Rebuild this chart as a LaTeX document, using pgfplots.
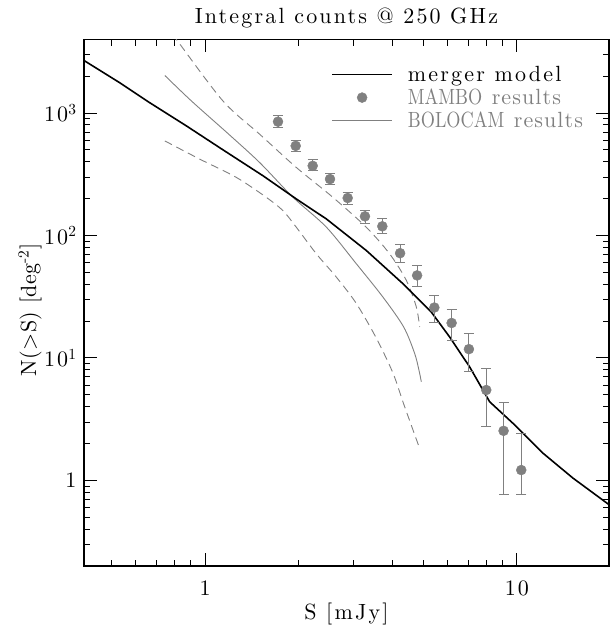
\documentclass[border=0pt]{standalone}
\usepackage{fontspec}
\setmainfont{lmroman10-regular.otf}[LetterSpace=10, Ligatures=TeX]
\usepackage{graphicx}
\usepackage{pgfplots}
\pgfplotsset{compat=1.18}
\definecolor{mgray}{RGB}{128,128,128}
\newcommand\caps[1]{{\addfontfeatures{LetterSpace=0}\scalebox{0.83}[1]{#1}}}
\pgfplotsset{
  linelegend/.style={legend image code/.code={\draw[##1] (0pt,0pt) -- (60pt,0pt);}},
  marklegend/.style={legend image code/.code={\draw[##1] plot coordinates {(30pt,0pt)};}},
}
\pgfplotstableread{
x y
0.409 2685
0.533 1765
0.665 1213
0.872 784
1.142 500
1.535 307
1.963 198.6
2.449 136.5
3.290 75.4
4.311 40.4
5.316 23.7
6.085 14.85
7.053 8.47
8.177 4.39
9.71 2.93
12.12 1.67
15.12 1.046
19.75 0.634
}\merger
\pgfplotstableread{
x y ep em
1.714 850 101 91
1.953 539 61 55
2.214 370.5 44 33.5
2.516 288.8 34 29.3
2.867 202.3 24 23.9
3.257 143.3 18.3 17.6
3.703 118.8 19.2 15.8
4.222 71.7 12.6 11.9
4.787 47.2 9.7 8.8
5.437 25.8 6.6 6.2
6.177 19.3 5.5 5.5
7.018 11.8 4.0 4.1
7.978 5.47 2.68 2.72
9.066 2.54 1.81 1.77
10.33 1.215 1.215 0.44
}\mambo
\pgfplotstableread{
x y
0.743 2026
0.905 1252
1.2 660
1.5 392
1.915 205
2.449 117
3.057 58.7
3.72 31.4
4.335 17.9
4.70 10.9
4.853 7.95
4.938 6.39
}\bolo
\pgfplotstableread{
x y
0.743 5400
0.810 3979
1.142 1252
1.497 671
1.963 359
2.572 204.6
3.291 116.6
3.908 70.8
4.421 43.0
4.760 26.05
4.877 17.9
}\boloup
\pgfplotstableread{
x y
0.743 592
0.962 420
1.261 297.6
1.573 204.6
1.778 159.4
1.963 116.6
2.275 70.8
2.637 45.7
3.057 27.8
3.543 14.5
4.006 7.52
4.335 4.21
4.853 1.89
}\bolodown
\begin{document}
\begin{tikzpicture}
\useasboundingbox (0,0) rectangle (610pt,627pt);
\begin{axis}[
  at={(84pt,61pt)}, anchor=south west,
  scale only axis, width=525pt, height=526.7pt,
  xmode=log, ymode=log,
  xmin=0.409, xmax=19.75, ymin=0.2, ymax=4000,
  font=\fontsize{22}{26}\selectfont,
  axis line style={line width=1.2pt},
  tick style={black, line width=0.9pt},
  major tick length=13pt, minor tick length=6.5pt,
  tick align=inside, tick pos=both,
  xtick={1,10}, xticklabels={1,10},
  minor xtick={0.5,0.6,0.7,0.8,0.9,2,3,4,5,6,7,8,9},
  ytick={1,10,100,1000},
  yticklabels={1,10\textsuperscript{1},10\textsuperscript{2},10\textsuperscript{3}},
  minor ytick={0.3,0.4,0.5,0.6,0.7,0.8,0.9,2,3,4,5,6,7,8,9,20,30,40,50,60,70,80,90,200,300,400,500,600,700,800,900,2000,3000},
  xticklabel style={anchor=base, yshift=-29pt},
  yticklabel style={anchor=east, xshift=-4pt},
  title={Integral counts @ 250 GHz},
  title style={at={(axis description cs:0.5,1)}, anchor=base, yshift=10pt},
  xlabel={S [mJy]},
  xlabel style={at={(axis description cs:0.5,0)}, anchor=base, yshift=-53pt},
  ylabel={\addfontfeatures{LetterSpace=2}N(>S) [deg\textsuperscript{-2}]},
  ylabel style={at={(axis description cs:-0.103,0.486)}, anchor=center},
  legend style={draw=none, fill=none, at={(axis description cs:0.465,0.955)}, anchor=north west,
    column sep=14pt, row sep=4pt, nodes={inner sep=1pt}},
  legend cell align=left,
]
\addplot[mgray, line width=0.9pt, dash pattern=on 8pt off 5pt, smooth, forget plot] table {\boloup};
\addplot[mgray, line width=0.9pt, dash pattern=on 8pt off 5pt, smooth, forget plot] table {\bolodown};
\addplot[mgray, line width=0.9pt, smooth, forget plot] table {\bolo};
\addplot[black, line width=1.6pt, forget plot] table {\merger};
\addplot[only marks, mark=*, mark size=5pt, mgray, forget plot,
  error bars/.cd, y dir=both, y explicit,
  error bar style={mgray, line width=0.9pt},
  error mark options={mgray, mark size=5pt, line width=0.9pt, rotate=90}]
  table[x=x, y=y, y error plus=ep, y error minus=em] {\mambo};
\addlegendimage{black, line width=1.6pt, linelegend}
\addlegendentry{merger model}
\addlegendimage{only marks, mark=*, mark size=5pt, mgray, marklegend}
\addlegendentry{\textcolor{mgray}{\caps{MAMBO} {\addfontfeatures{LetterSpace=5}results}}}
\addlegendimage{mgray, line width=0.9pt, linelegend}
\addlegendentry{\textcolor{mgray}{\caps{BOLOCAM} {\addfontfeatures{LetterSpace=5}results}}}
\end{axis}
\end{tikzpicture}
\end{document}
